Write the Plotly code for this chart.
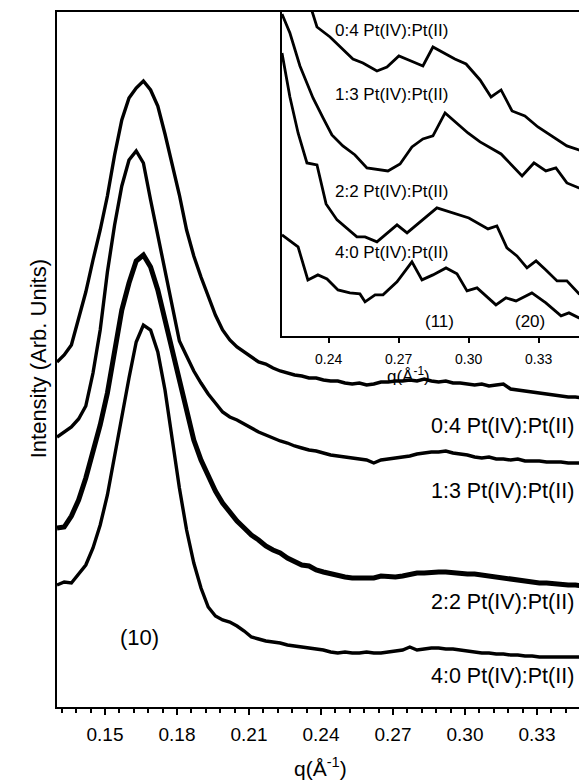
import plotly.graph_objects as go

# ---------------- main panel data ----------------
q_main = [0.130, 0.133, 0.136, 0.139, 0.142, 0.145, 0.148, 0.151, 0.154, 0.157,
          0.160, 0.163, 0.166, 0.169, 0.172, 0.175, 0.178, 0.181, 0.184, 0.187,
          0.190, 0.193, 0.196, 0.199, 0.202, 0.205, 0.208, 0.211, 0.214, 0.217,
          0.220, 0.223, 0.226, 0.229, 0.232, 0.235, 0.238, 0.241, 0.244, 0.247,
          0.250, 0.253, 0.256, 0.259, 0.262, 0.265, 0.268, 0.271, 0.274, 0.277,
          0.280, 0.283, 0.286, 0.289, 0.292, 0.295, 0.298, 0.301, 0.304, 0.307,
          0.310, 0.313, 0.316, 0.319, 0.322, 0.325, 0.328, 0.331, 0.334, 0.337,
          0.340, 0.343, 0.346, 0.349]

# intensities (arb. units, vertically offset)
I_04 = [345, 352, 362, 389, 415, 447, 477, 511, 552, 587,
        609, 619, 626, 617, 601, 573, 544, 512, 477, 451,
        430, 410, 392, 377, 367, 360, 355, 350, 345, 343,
        339, 336, 334, 332, 331, 329, 329, 327, 326, 326,
        324, 323, 324, 322, 323, 325, 325, 326, 326, 327,
        326, 328, 326, 325, 326, 324, 324, 323, 322, 323,
        321, 322, 323, 318, 317, 316, 315, 314, 313, 312,
        311, 310, 310, 309]
I_13 = [270, 275, 280, 288, 301, 334, 377, 435, 482, 521,
        547, 556, 544, 507, 471, 435, 400, 366, 351, 336,
        324, 313, 304, 295, 290, 287, 283, 279, 275, 272,
        269, 266, 264, 261, 259, 257, 256, 254, 252, 251,
        250, 249, 248, 247, 244, 247, 248, 249, 250, 251,
        253, 254, 255, 255, 256, 254, 253, 252, 250, 249,
        250, 248, 248, 247, 248, 246, 246, 246, 245, 245,
        245, 244, 244, 244]
I_22 = [179, 180, 191, 207, 229, 254, 282, 314, 354, 397,
        424, 446, 452, 440, 417, 387, 357, 324, 293, 267,
        247, 230, 216, 204, 194, 186, 179, 172, 167, 161,
        157, 154, 149, 146, 142, 141, 137, 135, 133, 131,
        130, 129, 129, 128, 129, 131, 130, 130, 131, 133,
        134, 134, 135, 135, 135, 134, 134, 133, 133, 132,
        131, 130, 128, 127, 126, 125, 125, 124, 124, 123,
        123, 122, 122, 121]
I_40 = [122, 125, 124, 133, 142, 159, 182, 212, 252, 292,
        329, 365, 382, 377, 355, 317, 267, 219, 177, 144,
        119, 100, 91, 87, 85, 81, 76, 70, 68, 66,
        65, 64, 62, 61, 60, 59, 58, 57, 55, 54,
        55, 54, 54, 55, 54, 54, 55, 56, 57, 60,
        57, 58, 59, 59, 58, 58, 57, 56, 55, 54,
        54, 53, 53, 52, 52, 51, 51, 50, 50, 50,
        50, 50, 50, 50]

# ---------------- inset data ----------------
q_in_04 = [0.2307, 0.2350, 0.2406, 0.2453, 0.2504, 0.2547, 0.2607, 0.2650, 0.2701,
           0.2753, 0.2804, 0.2847, 0.2941, 0.2989, 0.3049, 0.3096, 0.3139, 0.3186,
           0.3241, 0.3297, 0.3361, 0.3421, 0.3473, 0.3499]
I_in_04 = [341, 309, 299, 288, 277, 273, 265, 269, 280,
           275, 270, 289, 277, 272, 256, 239, 246, 225,
           220, 209, 199, 190, 186, 184]
q_in_13 = [0.2200, 0.2234, 0.2277, 0.2333, 0.2376, 0.2414, 0.2461, 0.2513, 0.2564,
           0.2654, 0.2706, 0.2757, 0.2804, 0.2847, 0.2899, 0.2950, 0.2997, 0.3049,
           0.3096, 0.3139, 0.3229, 0.3280, 0.3331, 0.3374, 0.3421, 0.3473, 0.3499]
I_in_13 = [322, 303, 270, 238, 218, 201, 190, 181, 168,
           165, 172, 189, 197, 200, 223, 213, 203, 194,
           188, 182, 160, 173, 165, 168, 153, 148, 147]
q_in_22 = [0.2200, 0.2234, 0.2269, 0.2307, 0.2350, 0.2389, 0.2436, 0.2483, 0.2521,
           0.2556, 0.2607, 0.2693, 0.2736, 0.2864, 0.2950, 0.3001, 0.3083, 0.3121,
           0.3164, 0.3207, 0.3250, 0.3289, 0.3331, 0.3379, 0.3421, 0.3473, 0.3499]
I_in_22 = [283, 239, 203, 173, 171, 132, 116, 107, 99,
           99, 94, 111, 103, 128, 122, 118, 107, 110,
           88, 80, 68, 75, 66, 55, 55, 42, 40]
q_in_40 = [0.2200, 0.2269, 0.2311, 0.2354, 0.2393, 0.2440, 0.2491, 0.2534, 0.2556,
           0.2599, 0.2633, 0.2693, 0.2757, 0.2800, 0.2847, 0.2903, 0.2950, 0.2993,
           0.3036, 0.3117, 0.3160, 0.3203, 0.3271, 0.3331, 0.3396, 0.3430, 0.3473, 0.3499]
I_in_40 = [101, 89, 56, 61, 57, 46, 43, 42, 34,
           41, 41, 54, 74, 56, 61, 68, 62, 45,
           48, 31, 38, 35, 43, 33, 20, 23, 18, 16]

labels = ["0:4 Pt(IV):Pt(II)", "1:3 Pt(IV):Pt(II)", "2:2 Pt(IV):Pt(II)", "4:0 Pt(IV):Pt(II)"]
main_label_y = [281, 216, 105, 31]
inset_label_y = [305, 241, 144, 83]

FONT = "Liberation Sans, Arial, sans-serif"
K = "black"

fig = go.Figure()
main_series = [I_04, I_13, I_22, I_40]
main_widths = [3.4, 3.4, 5, 3.4]
for ys, w in zip(main_series, main_widths):
    fig.add_trace(go.Scatter(x=q_main, y=ys, mode="lines",
                             line=dict(color=K, width=w), xaxis="x", yaxis="y",
                             showlegend=False, hoverinfo="skip"))

for qs, ys in [(q_in_04, I_in_04), (q_in_13, I_in_13), (q_in_22, I_in_22), (q_in_40, I_in_40)]:
    fig.add_trace(go.Scatter(x=qs, y=ys, mode="lines",
                             line=dict(color=K, width=2.8), xaxis="x2", yaxis="y2",
                             showlegend=False, hoverinfo="skip"))

ann = []
for t, yv in zip(labels, main_label_y):
    ann.append(dict(x=0.2850, y=yv, xref="x", yref="y", text=t, showarrow=False,
                    xanchor="left", yanchor="middle", font=dict(size=21.5, color=K, family=FONT)))
for t, yv in zip(labels, inset_label_y):
    ann.append(dict(x=0.2419, y=yv, xref="x2", yref="y2", text=t, showarrow=False,
                    xanchor="left", yanchor="middle", font=dict(size=17, color=K, family=FONT)))
ann.append(dict(x=0.1642, y=70, xref="x", yref="y", text="(10)", showarrow=False,
                font=dict(size=22, color=K, family=FONT)))
ann.append(dict(x=0.2877, y=14, xref="x2", yref="y2", text="(11)", showarrow=False,
                font=dict(size=17, color=K, family=FONT)))
ann.append(dict(x=0.3263, y=14, xref="x2", yref="y2", text="(20)", showarrow=False,
                font=dict(size=17, color=K, family=FONT)))
# axis titles
ann.append(dict(x=0.5057, y=-0.108, xref="paper", yref="paper", text="q(Å<sup>-1</sup>)",
                showarrow=False, font=dict(size=21, color=K, family=FONT)))
ann.append(dict(x=0.7184, y=0.478, xref="paper", yref="paper", text="q(Å<sup>-1</sup>)",
                showarrow=False, font=dict(size=17, color=K, family=FONT)))
ann.append(dict(x=-0.0632, y=0.501, xref="paper", yref="paper", text="Intensity (Arb. Units)",
                textangle=-90, showarrow=False, font=dict(size=22, color=K, family=FONT)))

fig.update_layout(
    width=579, height=783,
    margin=dict(l=57, r=0, t=12, b=76, autoexpand=False),
    paper_bgcolor="white", plot_bgcolor="white",
    font=dict(family=FONT, color=K),
    annotations=ann,
    xaxis=dict(domain=[0, 1], range=[0.13, 0.3475], anchor="y", automargin=False,
               showgrid=False, zeroline=False,
               showline=True, linewidth=2, linecolor=K, mirror=True,
               ticks="outside", ticklen=6, tickwidth=1.5, tickcolor=K,
               tick0=0.15, dtick=0.03, tickformat=".2f",
               ticklabelstandoff=3,
               tickfont=dict(size=19, color=K, family=FONT),
               minor=dict(dtick=0.006, tick0=0.15, ticks="outside", ticklen=4,
                          tickwidth=1.5, tickcolor=K, showgrid=False)),
    yaxis=dict(domain=[0, 1], range=[0, 695], anchor="x", automargin=False,
               showgrid=False, zeroline=False, showticklabels=False, ticks="",
               showline=True, linewidth=2, linecolor=K),
    xaxis2=dict(domain=[0.431, 1.0], range=[0.22, 0.3473], anchor="y2", automargin=False,
                showgrid=False, zeroline=False,
                showline=True, linewidth=2, linecolor=K,
                ticks="outside", ticklen=5, tickwidth=1.5, tickcolor=K,
                tick0=0.24, dtick=0.03, tickformat=".2f",
                ticklabelstandoff=4,
                tickfont=dict(size=14, color=K, family=FONT)),
    xaxis3=dict(overlaying="x2", range=[0.22, 0.3473], anchor="y2", side="top",
                automargin=False,
                showgrid=False, zeroline=False, showline=False, showticklabels=False,
                ticks="inside", ticklen=4, tickwidth=1.5, tickcolor=K,
                tick0=0.24, dtick=0.006),
    yaxis2=dict(domain=[0.534, 1.0], range=[0, 324], anchor="x2", automargin=False,
                showgrid=False, zeroline=False, showticklabels=False, ticks="",
                showline=True, linewidth=2, linecolor=K),
)

fig.write_html("out.html", config={"displayModeBar": False},
               post_script="document.body.style.margin='0';document.body.style.overflow='hidden';")
